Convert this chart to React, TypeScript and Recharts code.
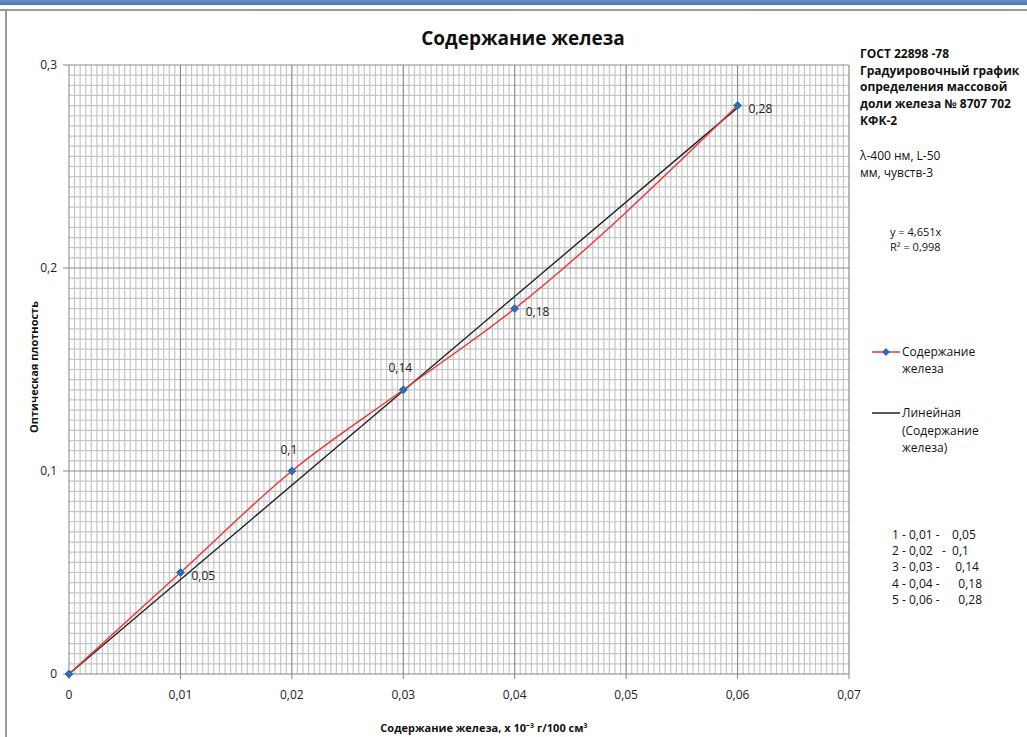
import { ComposedChart, Line, XAxis, YAxis, ReferenceLine, LabelList } from "recharts";

// калибровочные точки
const ironContent = [0, 0.01, 0.02, 0.03, 0.04, 0.06];
const opticalDensity = [0, 0.05, 0.1, 0.14, 0.18, 0.28];
const pointLabels = ["", "0,05", "0,1", "0,14", "0,18", "0,28"];
const labelSide = ["", "right", "top", "top", "right", "right"];

// линейный тренд y = 4,651x
const trendX = [0, 0.06];
const trendY = [0, 0.279];

const xTicks = [0, 0.01, 0.02, 0.03, 0.04, 0.05, 0.06, 0.07];
const yTicks = [0, 0.1, 0.2, 0.3];

const tableRows = [
  "1 - 0,01 -    0,05",
  "2 - 0,02   -  0,1",
  "3 - 0,03 -     0,14",
  "4 - 0,04 -      0,18",
  "5 - 0,06 -      0,28",
];

const headerLines = [
  "ГОСТ 22898 -78",
  "Градуировочный график",
  "определения массовой",
  "доли железа № 8707 702",
  "КФК-2",
];

const seriesData = ironContent.map((x, i) => ({ x, y: opticalDensity[i], label: pointLabels[i] }));
const trendData = trendX.map((x, i) => ({ x, y: trendY[i] }));

// мелкая сетка: 0,0005 по x, 0,005 по y
const xMinor: number[] = [];
for (let i = 1; i < 140; i++) if (i % 20) xMinor.push(+(i * 0.0005).toFixed(5));
const yMinor: number[] = [];
for (let i = 1; i < 60; i++) if (i % 20) yMinor.push(+(i * 0.005).toFixed(4));

const FONT = "'Open Sans', sans-serif";
const fmt = (v: number) => String(v).replace(".", ",");
const MINOR = "#c6c6c6";
const MAJOR = "#8c8c8c";

const Diamond = (props: any) => {
  const { cx, cy } = props;
  if (cx == null || cy == null) return null;
  const s = 4;
  return (
    <polygon
      points={`${cx},${cy - s} ${cx + s},${cy} ${cx},${cy + s} ${cx - s},${cy}`}
      fill="#2a6ebb"
      stroke="#2a6ebb"
    />
  );
};

const PointLabel = (props: any) => {
  const { x, y, value, index } = props;
  if (!value) return null;
  const side = labelSide[index];
  if (side === "top") {
    return (
      <text x={x - 3} y={y - 22} textAnchor="middle" dominantBaseline="central" fontSize={12} fill="#222" fontFamily={FONT}>
        {value}
      </text>
    );
  }
  return (
    <text x={x + 11} y={y + 3} textAnchor="start" dominantBaseline="central" fontSize={12} fill="#222" fontFamily={FONT}>
      {value}
    </text>
  );
};

export default function App() {
  return (
    <div style={{ position: "absolute", left: 0, top: 0, width: 1027, height: 737, background: "#fff", fontFamily: FONT, color: "#111", overflow: "hidden" }}>
      {/* рамка окна */}
      <div style={{ position: "absolute", left: 0, top: 0, width: 1027, height: 5, background: "linear-gradient(#6d8fc4, #4a72b0)" }} />
      <div style={{ position: "absolute", left: 0, top: 9, width: 1027, height: 2, background: "#9a9a9a" }} />
      <div style={{ position: "absolute", left: 5, top: 9, width: 2, height: 728, background: "#9a9a9a" }} />

      <ComposedChart
        width={1027}
        height={737}
        margin={{ top: 65, left: 29, right: 178, bottom: 33 }}
        style={{ position: "absolute", left: 0, top: 0 }}
      >
        <XAxis
          type="number"
          dataKey="x"
          domain={[0, 0.07]}
          ticks={xTicks}
          interval={0}
          height={30}
          stroke="#868686"
          tickSize={5}
          tickMargin={11}
          tickFormatter={fmt}
          tick={{ fontSize: 12, fill: "#222", fontFamily: FONT }}
        />
        <YAxis
          type="number"
          dataKey="y"
          domain={[0, 0.3]}
          ticks={yTicks}
          interval={0}
          width={40}
          stroke="#868686"
          tickSize={6}
          tickMargin={6}
          tickFormatter={fmt}
          tick={{ fontSize: 12, fill: "#222", fontFamily: FONT }}
        />
        {xMinor.map((v) => (
          <ReferenceLine key={`vx${v}`} x={v} stroke={MINOR} strokeWidth={1.2} />
        ))}
        {yMinor.map((v) => (
          <ReferenceLine key={`hy${v}`} y={v} stroke={MINOR} strokeWidth={1.2} />
        ))}
        {xTicks.slice(1).map((v) => (
          <ReferenceLine key={`VX${v}`} x={v} stroke={MAJOR} strokeWidth={1.2} />
        ))}
        {yTicks.slice(1).map((v) => (
          <ReferenceLine key={`HY${v}`} y={v} stroke={MAJOR} strokeWidth={1.2} />
        ))}
        <Line
          data={trendData}
          dataKey="y"
          type="linear"
          stroke="#222"
          strokeWidth={1.4}
          dot={false}
          isAnimationActive={false}
        />
        <Line
          data={seriesData}
          dataKey="y"
          type="monotone"
          stroke="#ee3333"
          strokeWidth={1.4}
          dot={<Diamond />}
          isAnimationActive={false}
        >
          <LabelList dataKey="label" content={<PointLabel />} />
        </Line>
        <text x={523} y={38} textAnchor="middle" dominantBaseline="central" fontSize={19} fontWeight={700} fontFamily={FONT} fill="#111">
          Содержание железа
        </text>
        <text
          x={33}
          y={367}
          transform="rotate(-90 33 367)"
          textAnchor="middle"
          dominantBaseline="central"
          fontSize={11}
          fontWeight={700}
          fontFamily={FONT}
          fill="#111"
        >
          Оптическая плотность
        </text>
        <text x={484} y={727} textAnchor="middle" dominantBaseline="central" fontSize={11} fontWeight={700} fontFamily={FONT} fill="#111">
          Содержание железа, х 10⁻³ г/100 см³
        </text>
      </ComposedChart>

      {/* правый блок */}
      <div style={{ position: "absolute", left: 860, top: 46, fontSize: 12, fontWeight: 700, lineHeight: "16.7px", whiteSpace: "nowrap" }}>
        {headerLines.map((l) => (
          <div key={l}>{l}</div>
        ))}
      </div>
      <div style={{ position: "absolute", left: 860, top: 148, fontSize: 12, lineHeight: "16.5px", whiteSpace: "nowrap" }}>
        <div>λ-400 нм, L-50</div>
        <div>мм, чувств-3</div>
      </div>
      <div style={{ position: "absolute", left: 890, top: 224, fontSize: 11, lineHeight: "15px", whiteSpace: "nowrap" }}>
        <div>y = 4,651x</div>
        <div>R² = 0,998</div>
      </div>

      {/* легенда */}
      <svg style={{ position: "absolute", left: 868, top: 340 }} width={36} height={90}>
        <line x1={4} y1={12} x2={32} y2={12} stroke="#ee3333" strokeWidth={1.5} />
        <polygon points="18,8 22,12 18,16 14,12" fill="#2a6ebb" />
        <line x1={4} y1={73} x2={32} y2={73} stroke="#222" strokeWidth={1.5} />
      </svg>
      <div style={{ position: "absolute", left: 902, top: 343, fontSize: 12, lineHeight: "17px", whiteSpace: "nowrap" }}>
        <div>Содержание</div>
        <div>железа</div>
      </div>
      <div style={{ position: "absolute", left: 902, top: 404, fontSize: 12, lineHeight: "17.5px", whiteSpace: "nowrap" }}>
        <div>Линейная</div>
        <div>(Содержание</div>
        <div>железа)</div>
      </div>

      {/* таблица точек */}
      <div style={{ position: "absolute", left: 892, top: 527, fontSize: 12, lineHeight: "16.2px", whiteSpace: "pre" }}>
        {tableRows.map((r) => (
          <div key={r}>{r}</div>
        ))}
      </div>
    </div>
  );
}
